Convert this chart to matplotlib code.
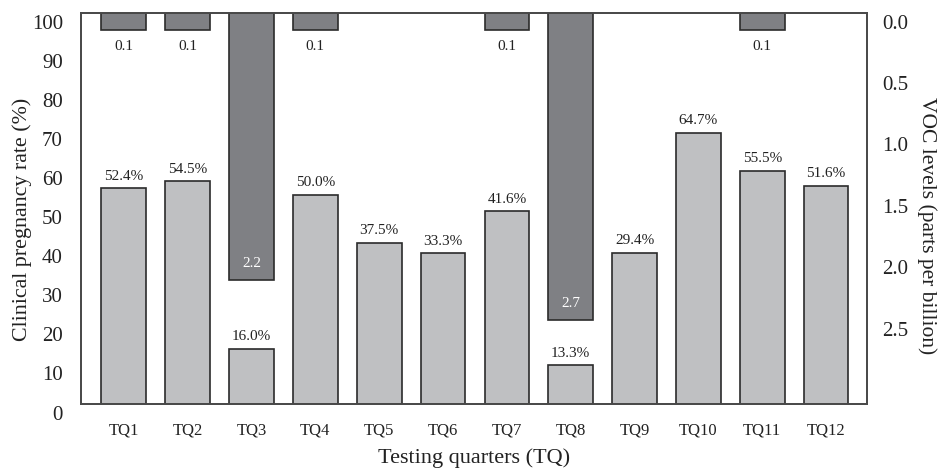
import matplotlib
matplotlib.use("Agg")
import matplotlib.pyplot as plt
import matplotlib.transforms as mtransforms
import numpy as np

# ---- data ----
quarters = ["TQ1", "TQ2", "TQ3", "TQ4", "TQ5", "TQ6",
            "TQ7", "TQ8", "TQ9", "TQ10", "TQ11", "TQ12"]
# drawn heights of the pregnancy-rate bars (%)
pregnancy_bar = [55.2, 57.0, 14.1, 53.5, 41.3, 38.5, 49.3, 9.9, 38.7, 69.4, 59.7, 55.8]
# printed labels of the pregnancy-rate bars
pregnancy_label = ["52.4%", "54.5%", "16.0%", "50.0%", "37.5%", "33.3%",
                   "41.6%", "13.3%", "29.4%", "64.7%", "55.5%", "51.6%"]
# VOC bars (hanging from the top, inverted right axis)
voc_quarters = ["TQ1", "TQ2", "TQ3", "TQ4", "TQ7", "TQ8", "TQ11"]
voc_bar = [0.14, 0.14, 2.17, 0.14, 0.14, 2.50, 0.14]
voc_label = ["0.1", "0.1", "2.2", "0.1", "0.1", "2.7", "0.1"]

left_ticks = [0, 10, 20, 30, 40, 50, 60, 70, 80, 90, 100]
right_ticks = [0.0, 0.5, 1.0, 1.5, 2.0, 2.5]

# ---- style ----
plt.rcParams['font.family'] = ['Liberation Serif', 'DejaVu Serif']
light = "#bfc0c2"
dark = "#7f8084"
edge = "#2b2b2b"
frame = "#4a4a4a"
txt = "#222222"

fig = plt.figure(figsize=(9.4, 4.7), dpi=100)
ax = fig.add_axes([0.0862, 0.1404, 0.9223 - 0.0862, 0.9723 - 0.1404])
ax2 = ax.twinx()

x = np.arange(len(quarters))
width = 0.70

ax.bar(x, pregnancy_bar, width=width, color=light, edgecolor=edge, linewidth=1.2, zorder=2)
for xi, h, lab in zip(x, pregnancy_bar, pregnancy_label):
    ax.annotate(lab, (xi, h), xytext=(0, 4), textcoords="offset points",
                ha="center", va="bottom", fontsize=11, color=txt)

vx = np.array([quarters.index(q) for q in voc_quarters])
ax2.bar(vx, voc_bar, width=width, bottom=0, color=dark, edgecolor=edge, linewidth=1.2, zorder=3)
for xi, h, lab in zip(vx, voc_bar, voc_label):
    if h > 1:
        ax2.annotate(lab, (xi, h), xytext=(0, 12), textcoords="offset points",
                     ha="center", va="center", fontsize=11, color="white")
    else:
        ax2.annotate(lab, (xi, h), xytext=(0, -7), textcoords="offset points",
                     ha="center", va="top", fontsize=11, color=txt)

ax.set_xlim(-0.67, len(quarters) - 1 + 0.64)
ax.set_ylim(0, 100)
ax2.set_ylim(3.18, 0)

ax.set_xticks(x)
ax.set_xticklabels(quarters, fontsize=12)
ax.set_yticks(left_ticks)
ax.set_yticklabels([str(t) for t in left_ticks], fontsize=15)
ax2.set_yticks(right_ticks)
ax2.set_yticklabels([f"{t:.1f}" for t in right_ticks], fontsize=15)

ax.tick_params(axis="x", length=0, pad=13, colors=txt)
ax.tick_params(axis="y", length=0, pad=13, colors=txt)
ax2.tick_params(axis="y", length=0, pad=11, colors=txt)

# tick labels sit slightly below their values in the reference
off = mtransforms.ScaledTranslation(0, -8.5 / 100, fig.dpi_scale_trans)
for lab in ax.get_yticklabels() + ax2.get_yticklabels():
    lab.set_transform(lab.get_transform() + off)

ax.set_xlabel("Testing quarters (TQ)", fontsize=16, color=txt, labelpad=7)
ax.set_ylabel("Clinical pregnancy rate (%)", fontsize=15.8, color=txt)
ax.yaxis.set_label_coords(-0.062, 0.473)
ax2.set_ylabel("VOC levels (parts per billion)", fontsize=15.5, color=txt,
               rotation=270)
ax2.yaxis.set_label_coords(1.089, 0.455)

for a in (ax, ax2):
    for s in a.spines.values():
        s.set_color(frame)
        s.set_linewidth(1.3)

ax.set_zorder(ax2.get_zorder() + 1)
ax.patch.set_visible(False)

fig.savefig("out.png", dpi=100)
